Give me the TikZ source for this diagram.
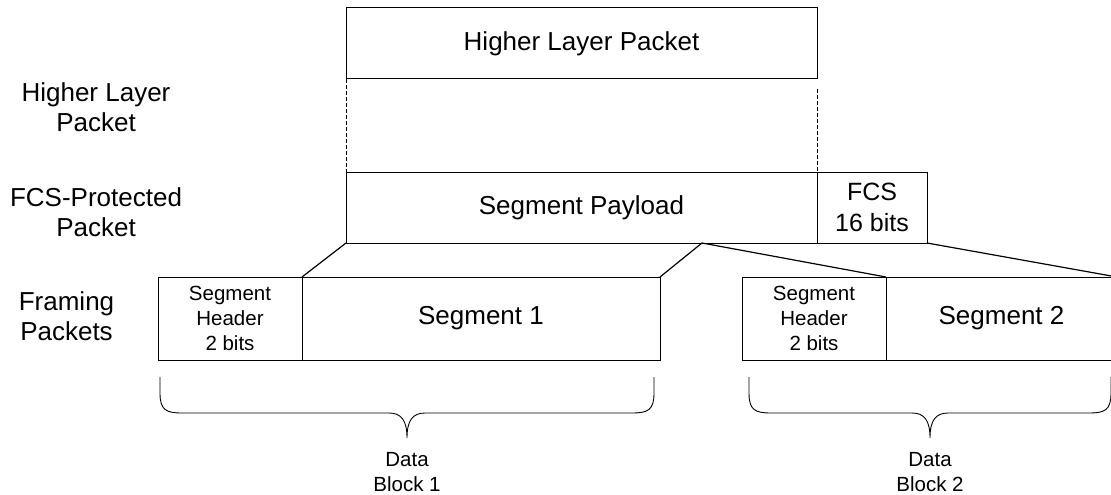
\documentclass[tikz,border=0pt]{standalone}
\usepackage{fontspec}
\setmainfont{Liberation Sans}
\begin{document}
\begin{tikzpicture}[x=1pt,y=-1pt,
  box/.style={draw, line width=1pt, inner sep=0pt, outer sep=0pt, align=center, anchor=north west},
  big/.style={font=\fontsize{26}{30}\selectfont},
  mid/.style={font=\fontsize{25}{31}\selectfont},
  small/.style={font=\fontsize{20.5}{25}\selectfont},
  lbl/.style={align=center, inner sep=0pt},
  link/.style={line width=1.2pt},
  guide/.style={line width=1pt, dash pattern=on 4pt off 2pt},
  bracestyle/.style={line width=0.9pt}]
\clip (0,0) rectangle (1111,495);

% left labels
\node[lbl, big] (l1) at (96,107) {Higher Layer\\Packet};
\node[lbl, big] (l2) at (96,212.5) {FCS-Protected\\Packet};
\node[lbl, big] (l3) at (66.5,316.5) {Framing\\Packets};

% top packet
\node[box, big, minimum width=471, minimum height=71] (hlp) at (346,8) {Higher Layer Packet};

% FCS-protected packet
\node[box, big, minimum width=471, minimum height=71] (pay) at (346,172) {Segment Payload};
\node[box, mid, minimum width=110, minimum height=71] (fcs) at (817,172) {FCS\\16 bits};

% dashed guides
\coordinate (g1a) at (346,43);
\coordinate (g1b) at (346,208);
\coordinate (g2a) at (817,89);
\coordinate (g2b) at (817,207);
\draw[guide] (g1a) -- (g1b);
\draw[guide] (g2a) -- (g2b);

% framing packets
\node[box, small, minimum width=144, minimum height=83] (hdr1) at (158,277) {Segment\\Header\\2 bits};
\node[box, big, minimum width=358, minimum height=83] (seg1) at (302,277) {Segment 1};
\node[box, small, minimum width=144, minimum height=83] (hdr2) at (742,277) {Segment\\Header\\2 bits};
\node[box, big, minimum width=231, minimum height=83] (seg2) at (886,277) {Segment 2};

% connectors
\coordinate (split) at (702,243);
\draw[link] (hdr1.north east) -- (pay.south west);
\draw[link] (seg1.north east) -- (split) -- (hdr2.north east);
\draw[link] (fcs.south east) -- (seg2.north east);

% braces
\draw[bracestyle] (160,377) -- (160,393) .. controls (160,410) and (166,413) .. (182,413)
  -- (389,413) .. controls (401,413) and (407,420) .. (407,438)
  .. controls (407,420) and (413,413) .. (425,413)
  -- (632,413) .. controls (648,413) and (654,410) .. (654,393) -- (654,377);
\draw[bracestyle] (749,377) -- (749,393) .. controls (749,410) and (755,413) .. (771,413)
  -- (912,413) .. controls (924,413) and (930,420) .. (930,438)
  .. controls (930,420) and (936,413) .. (948,413)
  -- (1089,413) .. controls (1105,413) and (1111,410) .. (1111,393) -- (1111,377);

% data block labels
\node[lbl, small] (d1) at (407,472.5) {Data\\Block 1};
\node[lbl, small] (d2) at (930,472.5) {Data\\Block 2};
\end{tikzpicture}
\end{document}
